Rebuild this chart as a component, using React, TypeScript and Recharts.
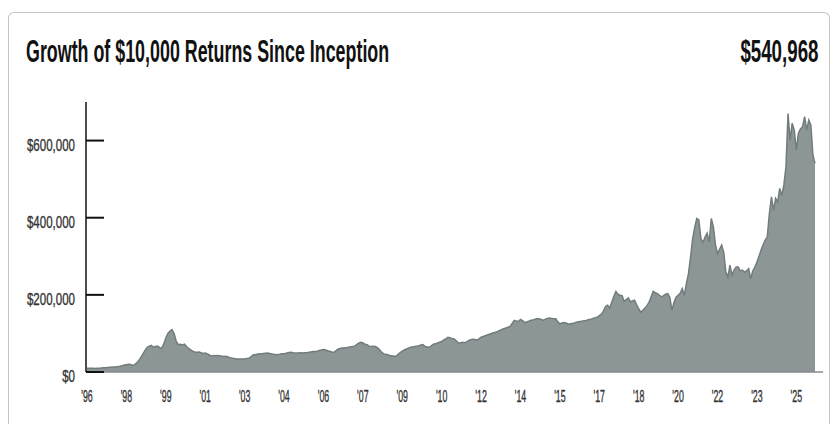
import { AreaChart, Area, XAxis, YAxis } from "recharts";

// monthly growth of $10,000, in thousands of dollars, Sep 1996 .. Dec 2025
const START_YEAR = 1996;
const START_MONTH = 9;

const VALUES_K: number[] = [
  // 1996 (Sep-Dec)
  10, 9.8, 9.5, 9.6,
  // 1997
  9.3, 9.6, 10, 10.4, 10.9, 11.2, 11.6, 12, 12.5, 13, 13.4, 14,
  // 1998
  15, 16.5, 18, 19, 20, 19.5, 17, 19, 24, 30, 38, 47,
  // 1999
  56, 64, 67, 69, 64, 66, 67, 63, 62, 72, 88, 100,
  // 2000
  106, 110, 100, 80, 71, 72, 70, 72, 66, 61, 57, 54,
  // 2001
  52, 51, 52, 50, 48, 49, 47, 44, 41, 43, 42, 43,
  // 2002
  42, 41, 40, 41, 39, 37, 36, 35, 34, 34, 33.5, 34,
  // 2003
  34, 35, 36, 39, 44, 45, 46, 47, 46.5, 48, 48.5, 49,
  // 2004
  48, 47, 46, 45, 45.5, 46, 47, 47, 48.5, 50, 51, 50.5,
  // 2005
  49, 49, 49.5, 50, 49.5, 50, 50, 51, 52, 53, 53, 54,
  // 2006
  56, 57, 58, 57, 55, 54, 52, 51, 55, 59, 61, 62,
  // 2007
  62, 63, 64, 65, 66, 67, 71, 75, 77, 76, 72, 71,
  // 2008
  67, 66, 67, 66, 63, 58, 52, 47, 46, 45, 43, 42,
  // 2009
  41, 41, 46, 50, 54, 57, 60, 62, 64, 65, 66, 67,
  // 2010
  68, 70, 71, 66, 65, 64, 68, 72, 73, 75, 77, 79,
  // 2011
  83, 86, 90, 89, 87, 86, 81, 76, 75, 77, 76, 78,
  // 2012
  81, 84, 85, 84, 83, 86, 90, 92, 94, 96, 98, 100,
  // 2013
  102, 103, 105, 108, 110, 112, 114, 116, 118, 126, 134, 132,
  // 2014
  131, 136, 133, 128, 130, 132, 134, 135, 137, 138, 138, 136,
  // 2015
  134, 137, 139, 140, 139, 138, 138, 130, 125, 127, 128, 127,
  // 2016
  124, 125, 126, 127, 129, 130, 131, 132, 133, 134, 136, 137,
  // 2017
  139, 141, 142, 146, 150, 158, 170, 173, 166, 181, 196, 209,
  // 2018
  202, 199, 198, 183, 188, 192, 182, 184, 186, 174, 164, 155,
  // 2019
  160, 166, 172, 181, 195, 209, 206, 203, 199, 195, 198, 202,
  // 2020
  203, 194, 160, 180, 194, 199, 204, 216, 199, 230, 255, 298,
  // 2021
  345, 375, 398, 394, 345, 336, 350, 360, 337, 398, 376, 330,
  // 2022
  307, 318, 329, 310, 260, 246, 277, 251, 265, 272, 272, 262,
  // 2023
  264, 259, 262, 268, 242, 262, 272, 285, 300, 316, 330, 342,
  // 2024
  350, 411, 454, 419, 450, 441, 476, 458, 485, 532, 670, 601,
  // 2025
  645, 627, 575, 619, 630, 636, 662, 627, 653, 640, 562, 541,
];

const Y_TICKS = [0, 200000, 400000, 600000];
const Y_MAX = 700000;
const TITLE = "Growth of $10,000 Returns Since Inception";
const CURRENT_VALUE = "$540,968";

const data = VALUES_K.map((v, i) => {
  const m = START_MONTH - 1 + i;
  const year = START_YEAR + Math.floor(m / 12);
  const month = (m % 12) + 1;
  return { date: `${year}-${String(month).padStart(2, "0")}`, value: v * 1000 };
});

const FONT = "'Liberation Sans', Arial, sans-serif";

const money = (v: number) => "$" + v.toLocaleString("en-US");

// props.x sits 18px right of the axis (tickSize -18, ticks point inward)
function YTick(props: any) {
  const { x, y, payload } = props;
  const ax = x - 29;
  return (
    <text
      x={ax}
      y={y + 10}
      textAnchor="end"
      fill="#333"
      stroke="#333"
      strokeWidth={0.35}
      fontSize={16}
      fontFamily={FONT}
      transform={`translate(${ax} 0) scale(0.72 1) translate(${-ax} 0)`}
    >
      {money(payload.value)}
    </text>
  );
}

function XTick(props: any) {
  const { x, y, payload } = props;
  const label = "'" + String(payload.value).slice(2, 4);
  return (
    <text
      x={x}
      y={y + 22}
      textAnchor="middle"
      fill="#333"
      stroke="#333"
      strokeWidth={0.35}
      fontSize={16}
      fontFamily={FONT}
      transform={`translate(${x} 0) scale(0.55 1) translate(${-x} 0)`}
    >
      {label}
    </text>
  );
}

const headStyle: React.CSSProperties = {
  position: "absolute",
  top: 27,
  fontFamily: FONT,
  fontWeight: 700,
  fontSize: 32,
  lineHeight: "32px",
  color: "#111",
  whiteSpace: "nowrap",
};

export default function App() {
  return (
    <div style={{ position: "relative", width: 822, height: 416 }}>
      <div
        style={{
          position: "absolute",
          left: 0,
          top: 4,
          width: 822,
          height: 412,
          boxSizing: "border-box",
          border: "1px solid #c4c4c4",
          borderBottom: "none",
          borderRadius: "6px 6px 0 0",
        }}
      />
      <div style={{ ...headStyle, left: 18, transform: "scaleX(0.558)", transformOrigin: "left top" }}>
        {TITLE}
      </div>
      <div style={{ ...headStyle, right: 12, transform: "scaleX(0.585)", transformOrigin: "right top" }}>
        {CURRENT_VALUE}
      </div>
      <div style={{ position: "absolute", left: 0, top: 0 }}>
        <AreaChart
          width={822}
          height={410}
          data={data}
          margin={{ top: 94, right: 7, bottom: 16, left: 0 }}
        >
          <XAxis
            dataKey="date"
            interval={18}
            tickLine={false}
            axisLine={{ stroke: "#8a8a8a", strokeWidth: 1.5 }}
            padding={{ left: 1, right: 8 }}
            height={30}
            tick={<XTick />}
          />
          <YAxis
            domain={[0, Y_MAX]}
            ticks={Y_TICKS}
            width={78}
            tickSize={-18}
            tickMargin={0}
            tickLine={{ stroke: "#111", strokeWidth: 2 }}
            axisLine={{ stroke: "#111", strokeWidth: 1.5 }}
            tick={<YTick />}
          />
          <Area
            type="linear"
            dataKey="value"
            stroke="#727c7c"
            strokeWidth={1.5}
            fill="#8c9696"
            fillOpacity={1}
            isAnimationActive={false}
          />
        </AreaChart>
      </div>
    </div>
  );
}
